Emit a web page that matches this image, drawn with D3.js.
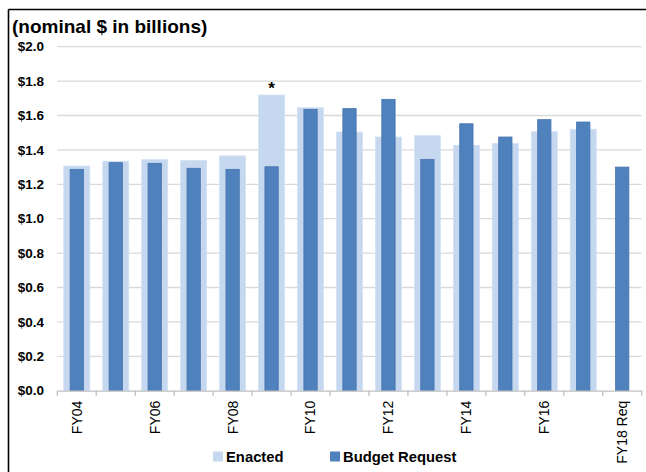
<!DOCTYPE html>
<html>
<head>
<meta charset="utf-8">
<script src="https://cdn.jsdelivr.net/npm/d3@7"></script>
<style>
  html, body { margin: 0; padding: 0; background: #fff; }
  svg { display: block; font-family: "Liberation Sans", Arial, sans-serif; }
</style>
</head>
<body>
<svg id="chart" width="646" height="472"></svg>
<script>
const categories = ["FY04","FY05","FY06","FY07","FY08","FY09","FY10","FY11","FY12","FY13","FY14","FY15","FY16","FY17","FY18 Req"];
const tickLabels = ["FY04","","FY06","","FY08","","FY10","","FY12","","FY14","","FY16","","FY18 Req"];
const enacted = [1.306,1.334,1.343,1.339,1.365,1.719,1.645,1.504,1.475,1.483,1.427,1.438,1.506,1.520,null];
const budgetRequest = [1.287,1.326,1.322,1.293,1.287,1.302,1.636,1.640,1.694,1.345,1.552,1.475,1.576,1.562,1.300];
const yTicks = [0,0.2,0.4,0.6,0.8,1.0,1.2,1.4,1.6,1.8,2.0];
const seriesNames = ["Enacted","Budget Request"];
const noteIndex = 5; // asterisk over FY09

(function(){
const svg = d3.select("#chart");
const lightC = "#C6D8F0", darkC = "#4F81BD";

// frame
svg.append("line").attr("x1",8.5).attr("x2",646).attr("y1",9.5).attr("y2",9.5).attr("stroke","#000").attr("stroke-width",1.6);
svg.append("line").attr("x1",8.5).attr("x2",8.5).attr("y1",9.5).attr("y2",472).attr("stroke","#000").attr("stroke-width",1.6);

const pLeft = 57.3, pRight = 641.7, pTop = 46.7, pBottom = 390.7;
const x = d3.scaleBand().domain(categories).range([pLeft,pRight]);
const y = d3.scaleLinear().domain([0,2]).range([pBottom,pTop]);

svg.append("text").attr("x",12).attr("y",33).attr("font-size",19).attr("font-weight","bold").attr("fill","#000").text("(nominal $ in billions)");

// gridlines
svg.append("g").selectAll("line").data(yTicks.filter(d=>d>0)).join("line")
  .attr("x1",pLeft).attr("x2",pRight).attr("y1",d=>y(d)).attr("y2",d=>y(d))
  .attr("stroke","#D9D9D9").attr("stroke-width",1.3);

// y labels
svg.append("g").selectAll("text").data(yTicks).join("text")
  .attr("x",44).attr("y",d=>y(d)).attr("dy","0.35em").attr("text-anchor","end")
  .attr("font-size",13.5).attr("font-weight","bold").attr("fill","#000")
  .text(d=>"$"+d.toFixed(1));

// bars
const lw = 26, dw = 13.3;
svg.append("g").selectAll("rect").data(categories.map((c,i)=>({c,v:enacted[i]})).filter(d=>d.v!=null)).join("rect")
  .attr("x",d=>x(d.c)+x.bandwidth()/2-lw/2).attr("width",lw)
  .attr("y",d=>y(d.v)).attr("height",d=>pBottom-y(d.v))
  .attr("fill",lightC).attr("stroke","#D3E1F4").attr("stroke-width",0.8);
svg.append("g").selectAll("rect").data(categories.map((c,i)=>({c,v:budgetRequest[i]}))).join("rect")
  .attr("x",d=>x(d.c)+x.bandwidth()/2-dw/2).attr("width",dw)
  .attr("y",d=>y(d.v)).attr("height",d=>pBottom-y(d.v))
  .attr("fill",darkC).attr("stroke","#4674AD").attr("stroke-width",0.8);

// asterisk
svg.append("text").attr("x",x(categories[noteIndex])+x.bandwidth()/2).attr("y",y(enacted[noteIndex])-1)
  .attr("text-anchor","middle").attr("font-size",17).attr("font-weight","bold").text("*");

// x axis
const xAxis = d3.axisBottom(x).tickSize(0).tickFormat((d,i)=>tickLabels[i]);
const gx = svg.append("g").attr("transform",`translate(0,${pBottom})`).call(xAxis);
gx.select(".domain").attr("stroke","#BFBFBF").attr("stroke-width",1.3);
gx.selectAll(".tick text").attr("font-size",14).attr("fill","#000")
  .attr("font-family","'Liberation Sans', Arial, sans-serif")
  .attr("transform","rotate(-90)").attr("text-anchor","end").attr("x",-10).attr("y",0).attr("dy","0.35em");
// boundary tick marks
svg.append("g").selectAll("line").data(d3.range(categories.length+1)).join("line")
  .attr("x1",i=>pLeft+i*x.bandwidth()).attr("x2",i=>pLeft+i*x.bandwidth())
  .attr("y1",pBottom).attr("y2",pBottom+5).attr("stroke","#BFBFBF").attr("stroke-width",1.3);

// legend
const leg = svg.append("g");
const legItems = [{n:seriesNames[0],c:lightC,x:213},{n:seriesNames[1],c:darkC,x:330}];
legItems.forEach(it=>{
  leg.append("rect").attr("x",it.x).attr("y",451.5).attr("width",10).attr("height",10).attr("fill",it.c);
  leg.append("text").attr("x",it.x+13).attr("y",457).attr("dy","0.35em").attr("font-size",14.8).attr("font-weight","bold").text(it.n);
});
})();
</script>
</body>
</html>
